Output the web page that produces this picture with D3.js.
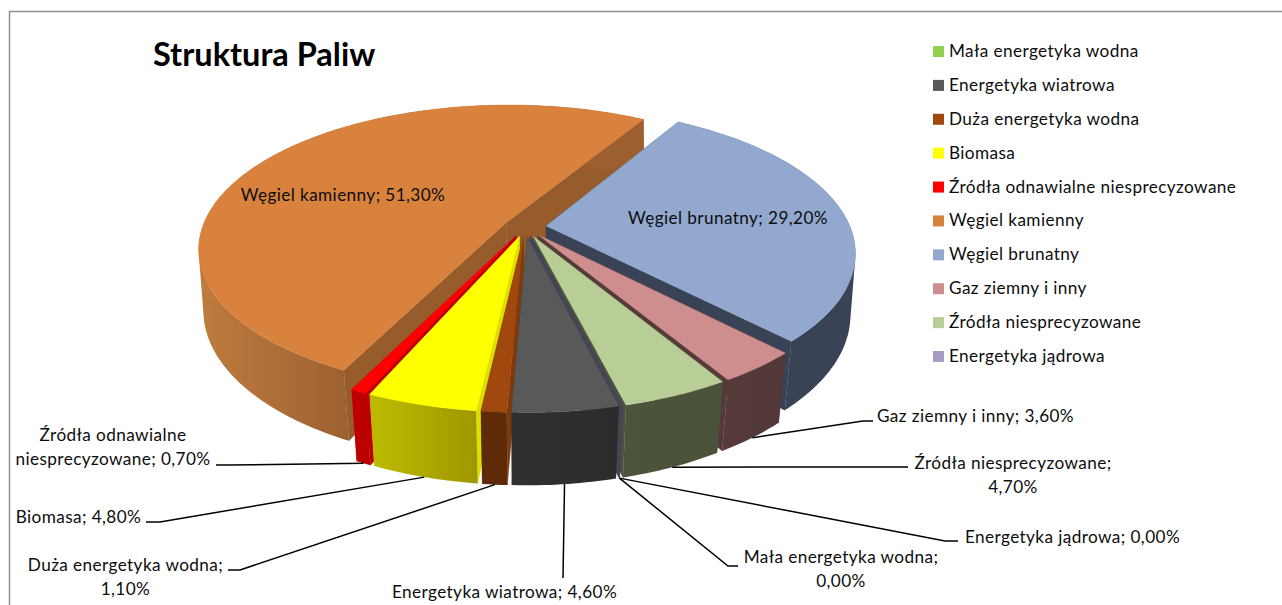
<!DOCTYPE html>
<html lang="pl">
<head>
<meta charset="utf-8">
<title>Struktura Paliw</title>
<script src="https://cdn.jsdelivr.net/npm/d3@7"></script>
<style>
html,body{margin:0;padding:0;background:#fff;overflow:hidden}
svg{display:block}
text{font-family:Lato,"Noto Sans",sans-serif;fill:#0d0d0d}
</style>
</head>
<body>
<svg id="chart" width="1282" height="605"></svg>
<script>
// ---- data, in legend order ----
const chartTitle = "Struktura Paliw";
const categories = ["Mała energetyka wodna","Energetyka wiatrowa","Duża energetyka wodna","Biomasa","Źródła odnawialne niesprecyzowane","Węgiel kamienny","Węgiel brunatny","Gaz ziemny i inny","Źródła niesprecyzowane","Energetyka jądrowa"];
const values = [0.0, 4.6, 1.1, 4.8, 0.7, 51.3, 29.2, 3.6, 4.7, 0.0];

// ---- styles ----
const topColors  = ["#92D050","#595959","#A0480E","#FFFF00","#FF0000","#D8823E","#92A8CF","#CE8E8E","#B9CD96","#A99CC0"];
const sideLeft   = ["#44445A","#303030","#5E2A08","#BCBA00","#BC0000","#BE7B3E","#3A4256","#573B3B","#4C553B","#44445A"];
const sideRight  = ["#44445A","#2C2C2C","#5E2A08","#9E9800","#BC0000","#9C6030","#3A4256","#523838","#4A5239","#44445A"];
const cutColors  = ["#44445A","#3A3A3A","#7F3A0B","#DEDE00","#BC0000","#975C2B","#3A4256","#553A3A","#4B533A","#44445A"];
// painter's order: back to front
const drawOrder  = ["Węgiel kamienny","Węgiel brunatny","Gaz ziemny i inny","Źródła niesprecyzowane","Energetyka jądrowa","Mała energetyka wodna","Źródła odnawialne niesprecyzowane","Biomasa","Duża energetyka wodna","Energetyka wiatrowa"];

// ---- label layout: [category, lines, centre x, first baseline, line end] ----
const labelLines = [
  ["Węgiel kamienny",["Węgiel kamienny; 51,30%"],343,201,null],
  ["Węgiel brunatny",["Węgiel brunatny; 29,20%"],728,224,null],
  ["Gaz ziemny i inny",["Gaz ziemny i inny; 3,60%"],975.5,422,[[863,421],[873,421]]],
  ["Źródła niesprecyzowane",["Źródła niesprecyzowane;","4,70%"],1013,469,[[895,467],[908,467]]],
  ["Energetyka jądrowa",["Energetyka jądrowa; 0,00%"],1072.5,543,[[945,541],[958,541]]],
  ["Mała energetyka wodna",["Mała energetyka wodna;","0,00%"],841,563,[[728,566],[738,566]]],
  ["Energetyka wiatrowa",["Energetyka wiatrowa; 4,60%"],504.5,598,[[563,578]]],
  ["Duża energetyka wodna",["Duża energetyka wodna;","1,10%"],125.5,571,[[240,570],[228,570]]],
  ["Biomasa",["Biomasa; 4,80%"],78.5,523,[[160,522],[146,522]]],
  ["Źródła odnawialne niesprecyzowane",["Źródła odnawialne","niesprecyzowane; 0,70%"],113,441,[[228,465],[216,465]]]
];

// ---- projection of the tilted disc ----
const cx = 525, cy = 227, Rx = 304, Ry = 140, persp = 0.18, explode = 0.07, depth = 63;
const startDeg = 165.9;
const rad = Math.PI / 180;
const fontSize = 17.2, tracking = 0.4;

function project(x, y, bottom) {
  const w = 1 / (1 - persp * y), b = bottom ? 0.988 - 0.018 * y : 1;
  return [cx + Rx * x * w * b, cy + Ry * y * w * (bottom ? 0.972 : 1) + (bottom ? depth * w : 0)];
}
function planePoint(slice, theta, r) {
  const mid = (slice.startAngle + slice.endAngle) / 2;
  return [explode * Math.sin(mid) + r * Math.sin(theta), -explode * Math.cos(mid) - r * Math.cos(theta)];
}

const svg = d3.select("#chart");
const line = d3.line();
const defs = svg.append("defs");

// frame
svg.append("path").attr("d", line([[9.5, 605], [9.5, 11.5], [1282, 11.5]]))
  .attr("fill", "none").attr("stroke", "#8e8e8e").attr("stroke-width", 1.5);

// title
svg.append("text").attr("x", 153).attr("y", 66).attr("font-size", 32.5).attr("font-weight", 700)
  .attr("style", "fill:#000").text(chartTitle);

// pie
const pie = d3.pie().sort(null).value(d => d)
  .startAngle(startDeg * rad).endAngle(startDeg * rad + 2 * Math.PI);
const slices = pie(values);
const byName = new Map(categories.map((c, i) => [c, slices[i]]));

drawOrder.forEach(name => {
  const i = categories.indexOf(name), s = byName.get(name);
  const g = svg.append("g").attr("class", "slice");
  const n = Math.max(2, Math.ceil((s.endAngle - s.startAngle) / rad));
  const thetas = d3.range(n + 1).map(k => s.startAngle + (s.endAngle - s.startAngle) * k / n);
  const P = (t, r, b) => { const p = planePoint(s, t, r); return project(p[0], p[1], b); };
  // radial cut walls
  [s.startAngle, s.endAngle].forEach(t => {
    g.append("path").attr("d", line([P(t,0,false), P(t,1,false), P(t,1,true), P(t,0,true)]) + "Z")
      .attr("fill", cutColors[i]).attr("stroke", cutColors[i]).attr("stroke-width", 0.4);
  });
  if (s.endAngle - s.startAngle < 1e-6) return;
  // rim wall with its horizontal shading: same-wound quads in one path, so the
  // silhouette stays smooth and no seams show between the angular steps
  const topArc = thetas.map(t => P(t,1,false)), botArc = thetas.map(t => P(t,1,true));
  const xs = botArc.map(p => p[0]).filter((x, k) => Math.cos(thetas[k]) < 0.1);
  const gid = "rim" + i;
  const grad = defs.append("linearGradient").attr("id", gid).attr("gradientUnits", "userSpaceOnUse")
    .attr("x1", d3.min(xs)).attr("x2", d3.max(xs)).attr("y1", 0).attr("y2", 0);
  grad.append("stop").attr("offset", 0).attr("stop-color", sideLeft[i]);
  grad.append("stop").attr("offset", 1).attr("stop-color", sideRight[i]);
  const rimPath = d3.range(n).map(k => {
    const quad = [topArc[k], topArc[k+1], botArc[k+1], botArc[k]];
    if (d3.polygonArea(quad) < 0) quad.reverse();
    return line(quad) + "Z";
  }).join("");
  g.append("path").attr("d", rimPath).attr("fill", `url(#${gid})`).attr("fill-rule", "nonzero");
  // top face
  g.append("path").attr("d", line([P(s.startAngle,0,false)].concat(topArc)) + "Z")
    .attr("fill", topColors[i]).attr("stroke", topColors[i]).attr("stroke-width", 0.4);
});

// leader lines and data labels
labelLines.forEach(([name, lines, x, y, route]) => {
  if (route) {
    const s = byName.get(name), mid = (s.startAngle + s.endAngle) / 2;
    const p = planePoint(s, mid, 1);
    svg.append("path").attr("d", line([project(p[0], p[1], true)].concat(route)))
      .attr("fill", "none").attr("stroke", "#000").attr("stroke-width", 1.5);
  }
  lines.forEach((t, k) => {
    svg.append("text").attr("x", x).attr("y", y + k * 24).attr("text-anchor", "middle")
      .attr("font-size", fontSize).attr("letter-spacing", tracking).text(t);
  });
});

// legend
const legendY = d3.scalePoint().domain(categories).range([51.5, 356.5]);
const legend = svg.append("g").selectAll("g").data(categories).join("g")
  .attr("transform", d => `translate(0,${legendY(d)})`);
legend.append("rect").attr("x", 933).attr("y", -5.5).attr("width", 11).attr("height", 11)
  .attr("fill", (d, i) => topColors[i]);
legend.append("text").attr("x", 949).attr("y", 5.5).attr("font-size", fontSize)
  .attr("letter-spacing", tracking).text(d => d);
</script>
</body>
</html>
